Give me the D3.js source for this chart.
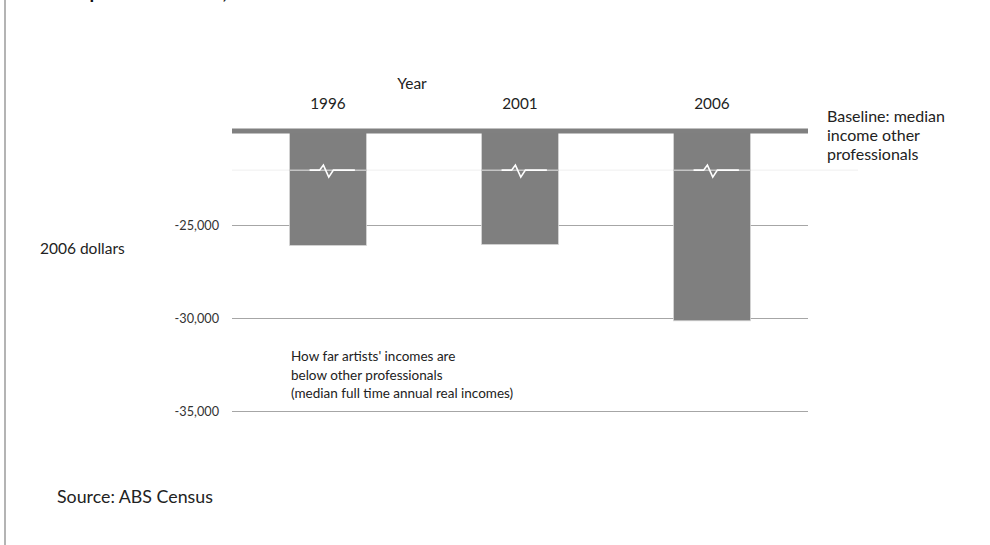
<!DOCTYPE html>
<html>
<head>
<meta charset="utf-8">
<script src="https://cdn.jsdelivr.net/npm/d3@7"></script>
<style>
  html, body { margin: 0; padding: 0; background: #fff; }
  svg { display: block; font-family: Lato, "Open Sans", sans-serif; }
</style>
</head>
<body>
<svg id="chart" width="990" height="545"></svg>
<script>
// Census years and how far artists' median incomes sit below other professionals (2006 dollars)
const years = ["1996", "2001", "2006"];
const gaps = [-26100, -26050, -30150];
const tickValues = [-25000, -30000, -35000];
const tickLabels = ["-25,000", "-30,000", "-35,000"];
const baselineValue = -20000;   // drawn position of the (broken) zero baseline
const breakValue = -22050;      // where the axis break is marked

const svg = d3.select("#chart");
const margin = { left: 232, right: 182, top: 132, bottom: 134 };
const W = 990, H = 545;

const x = d3.scaleBand().domain(years).range([margin.left, W - margin.right]).paddingInner(0.6).paddingOuter(0.3);
const y = d3.scaleLinear().domain([baselineValue, -35000]).range([margin.top, 411]);

// frame edge on the left
svg.append("line").attr("x1", 5).attr("x2", 5).attr("y1", 0).attr("y2", H)
  .attr("stroke", "#b4b4b4").attr("stroke-width", 2);

// title, running off the top edge
svg.append("text").attr("x", 66).attr("y", -1)
  .attr("font-size", 19).attr("font-weight", "bold").attr("fill", "#111")
  .text("Gap in real income, 1996\u20132006");

// gridlines + tick labels
const axis = d3.axisLeft(y).tickValues(tickValues)
  .tickFormat((d, i) => tickLabels[i])
  .tickSize(-(W - margin.right - margin.left)).tickPadding(13);
const gAxis = svg.append("g").attr("transform", `translate(${margin.left},0)`).call(axis);
gAxis.select(".domain").remove();
gAxis.selectAll(".tick line").attr("stroke", "#a6a6a6").attr("stroke-width", 1);
gAxis.selectAll(".tick text").attr("font-size", 12.7).attr("fill", "#333")
  .attr("font-family", "Lato, sans-serif");

// faint break line across the plot
svg.append("line").attr("x1", margin.left).attr("x2", 858)
  .attr("y1", y(breakValue)).attr("y2", y(breakValue))
  .attr("stroke", "#efefef").attr("stroke-width", 1);

// bars
const bars = svg.append("g").selectAll("g").data(years.map((yr, i) => ({ yr, v: gaps[i] })))
  .join("g");
bars.append("rect")
  .attr("x", d => x(d.yr)).attr("width", x.bandwidth())
  .attr("y", y(baselineValue)).attr("height", d => y(d.v) - y(baselineValue))
  .attr("fill", "#7f7f7f").attr("stroke", "#d4d4d4").attr("stroke-width", 0.8);

// axis-break symbols within each bar
const yb = y(breakValue);
bars.append("line")
  .attr("x1", d => x(d.yr)).attr("x2", d => x(d.yr) + x.bandwidth())
  .attr("y1", yb).attr("y2", yb).attr("stroke", "#c4c4c4").attr("stroke-width", 1.5);
bars.append("path")
  .attr("d", d => {
    const x0 = x(d.yr), w = x.bandwidth();
    return `M${x0 + 0.26 * w},${yb} L${x0 + 0.39 * w},${yb} L${x0 + 0.44 * w},${yb - 5} ` +
           `L${x0 + 0.51 * w},${yb + 7} L${x0 + 0.57 * w},${yb} L${x0 + 0.85 * w},${yb}`;
  })
  .attr("fill", "none").attr("stroke", "#fff").attr("stroke-width", 1.6);

// baseline
svg.append("line").attr("x1", margin.left).attr("x2", W - margin.right)
  .attr("y1", 131).attr("y2", 131).attr("stroke", "#808080").attr("stroke-width", 5);

// year labels above
svg.append("g").selectAll("text").data(years).join("text")
  .attr("x", d => x(d) + x.bandwidth() / 2).attr("y", 109)
  .attr("text-anchor", "middle").attr("font-size", 15.3).attr("fill", "#222").text(d => d);
svg.append("text").attr("x", 412).attr("y", 89).attr("text-anchor", "middle")
  .attr("font-size", 15.5).attr("fill", "#222").text("Year");

// y axis title
svg.append("text").attr("x", 40).attr("y", 254).attr("font-size", 15.5).attr("fill", "#222")
  .text("2006 dollars");

// baseline note
const note = svg.append("text").attr("x", 827).attr("font-size", 16).attr("fill", "#222");
["Baseline: median", "income other", "professionals"].forEach((t, i) =>
  note.append("tspan").attr("x", 827).attr("y", 122 + i * 19).text(t));

// annotation inside plot
const ann = svg.append("text").attr("font-size", 13.5).attr("fill", "#222");
["How far artists' incomes are", "below other professionals", "(median full time annual real incomes)"]
  .forEach((t, i) => ann.append("tspan").attr("x", 291).attr("y", 361 + i * 18.5).text(t));

// source
svg.append("text").attr("x", 57).attr("y", 503).attr("font-size", 17.8).attr("fill", "#222")
  .text("Source: ABS Census");
</script>
</body>
</html>
